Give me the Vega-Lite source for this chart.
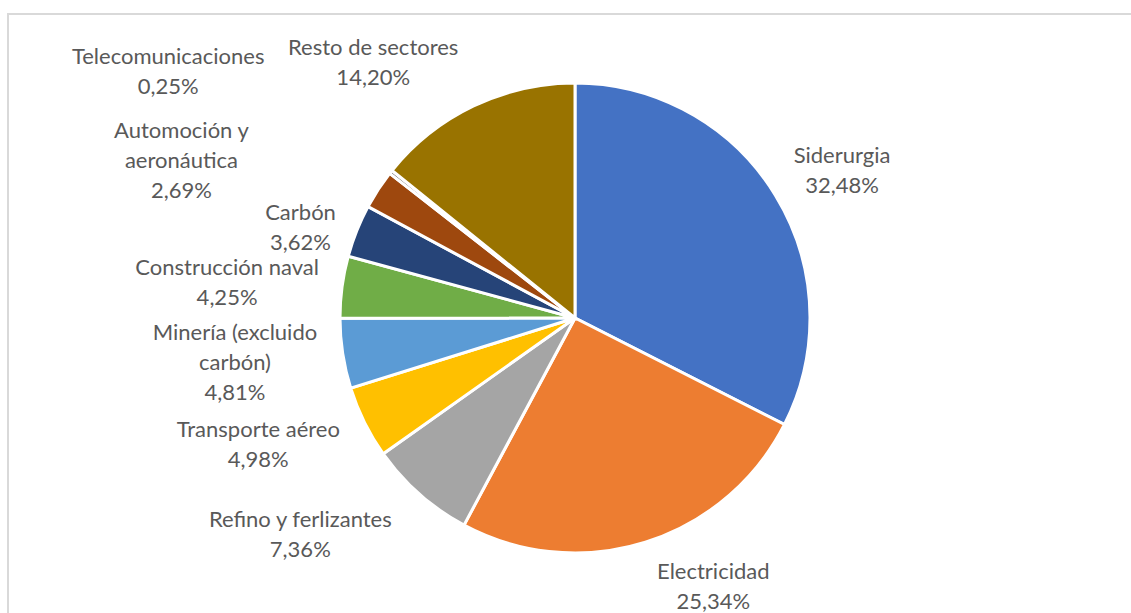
{
  "$schema": "https://vega.github.io/schema/vega-lite/v6.json",
  "width": 1134,
  "height": 608,
  "autosize": {"type": "none"},
  "padding": {"left": 8, "top": 14, "right": -11, "bottom": -9},
  "background": "white",
  "view": {"stroke": "#d9d9d9", "strokeWidth": 2},
  "config": {
    "view": {"stroke": "#d9d9d9", "strokeWidth": 2},
    "text": {"font": "Lato", "fontSize": 22, "color": "#595959", "align": "center", "baseline": "middle", "lineHeight": 30, "lineBreak": "\n"}
  },
  "data": {
    "values": [
      {"sector": "Siderurgia", "label": "Siderurgia", "value": 32.48},
      {"sector": "Electricidad", "label": "Electricidad", "value": 25.34},
      {"sector": "Refino y ferlizantes", "label": "Refino y ferlizantes", "value": 7.36},
      {"sector": "Transporte aéreo", "label": "Transporte aéreo", "value": 4.98},
      {"sector": "Minería (excluido carbón)", "label": "Minería (excluido\ncarbón)", "value": 4.81},
      {"sector": "Construcción naval", "label": "Construcción naval", "value": 4.25},
      {"sector": "Carbón", "label": "Carbón", "value": 3.62},
      {"sector": "Automoción y aeronáutica", "label": "Automoción y\naeronáutica", "value": 2.69},
      {"sector": "Telecomunicaciones", "label": "Telecomunicaciones", "value": 0.25},
      {"sector": "Resto de sectores", "label": "Resto de sectores", "value": 14.20}
    ]
  },
  "transform": [
    {"window": [{"op": "row_number", "as": "i"}]},
    {"calculate": "datum.label + '\\n' + replace(format(datum.value, '.2f'), '.', ',') + '%'", "as": "txt"}
  ],
  "encoding": {
    "theta": {"field": "value", "type": "quantitative", "stack": true},
    "order": {"field": "i", "type": "quantitative"},
    "detail": {"field": "sector", "type": "nominal"}
  },
  "layer": [
    {
      "mark": {"type": "arc", "radius": 235, "stroke": "white", "strokeWidth": 3},
      "encoding": {
        "color": {
          "field": "sector",
          "type": "nominal",
          "legend": null,
          "scale": {
            "domain": ["Siderurgia", "Electricidad", "Refino y ferlizantes", "Transporte aéreo", "Minería (excluido carbón)", "Construcción naval", "Carbón", "Automoción y aeronáutica", "Telecomunicaciones", "Resto de sectores"],
            "range": ["#4472C4", "#ED7D31", "#A5A5A5", "#FFC000", "#5B9BD5", "#70AD47", "#264478", "#9E480E", "#636363", "#997300"]
          }
        }
      }
    },
    {"mark": {"type": "text", "radius": 305, "dx": 7, "dy": -3}, "encoding": {"text": {"condition": {"test": "datum.i === 1", "field": "txt"}, "value": ""}}},
    {"mark": {"type": "text", "radius": 298, "dx": 49, "dy": -30}, "encoding": {"text": {"condition": {"test": "datum.i === 2", "field": "txt"}, "value": ""}}},
    {"mark": {"type": "text", "radius": 344, "dx": -47, "dy": -56}, "encoding": {"text": {"condition": {"test": "datum.i === 3", "field": "txt"}, "value": ""}}},
    {"mark": {"type": "text", "radius": 340, "dx": -12, "dy": -39}, "encoding": {"text": {"condition": {"test": "datum.i === 4", "field": "txt"}, "value": ""}}},
    {"mark": {"type": "text", "radius": 343, "dx": -1, "dy": -37}, "encoding": {"text": {"condition": {"test": "datum.i === 5", "field": "txt"}, "value": ""}}},
    {"mark": {"type": "text", "radius": 350, "dx": -1, "dy": -4}, "encoding": {"text": {"condition": {"test": "datum.i === 6", "field": "txt"}, "value": ""}}},
    {"mark": {"type": "text", "radius": 288, "dx": -7, "dy": 2}, "encoding": {"text": {"condition": {"test": "datum.i === 7", "field": "txt"}, "value": ""}}},
    {"mark": {"type": "text", "radius": 415, "dx": -46, "dy": 40}, "encoding": {"text": {"condition": {"test": "datum.i === 8", "field": "txt"}, "value": ""}}},
    {"mark": {"type": "text", "radius": 472, "dx": -37, "dy": 32}, "encoding": {"text": {"condition": {"test": "datum.i === 9", "field": "txt"}, "value": ""}}},
    {"mark": {"type": "text", "radius": 317, "dx": -65, "dy": 16}, "encoding": {"text": {"condition": {"test": "datum.i === 10", "field": "txt"}, "value": ""}}}
  ]
}
